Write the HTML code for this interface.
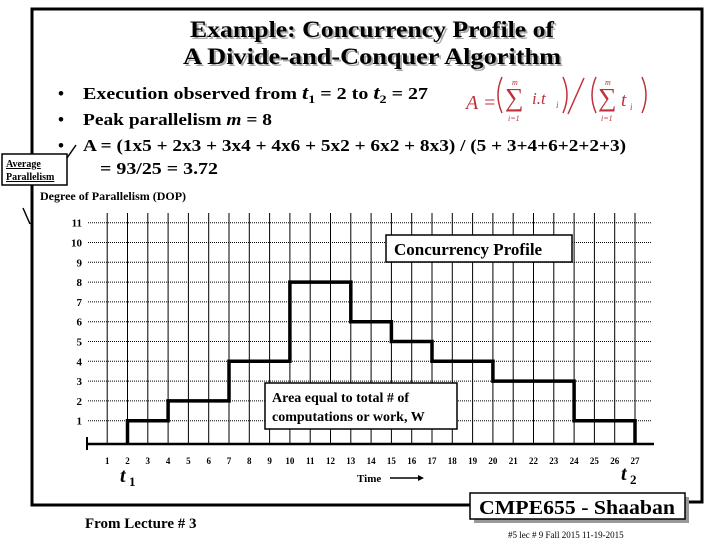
<!DOCTYPE html>
<html><head><meta charset="utf-8"><style>
body{margin:0;background:#fff;}
svg{display:block;font-family:"Liberation Serif",serif;}
</style></head><body>
<svg id="s" width="720" height="540" viewBox="0 0 720 540">
<g fill="none" stroke="#000" stroke-width="3">
<polyline points="470,505 32,505 32,9 702,9 702,502 686,502"/>
</g>
<g font-weight="bold" font-size="23" text-anchor="middle">
<text x="374" y="39" fill="#aaa" textLength="364" lengthAdjust="spacingAndGlyphs">Example: Concurrency Profile of</text>
<text x="372" y="37" textLength="364" lengthAdjust="spacingAndGlyphs">Example: Concurrency Profile of</text>
<text x="374" y="66" fill="#aaa" textLength="378" lengthAdjust="spacingAndGlyphs">A Divide-and-Conquer Algorithm</text>
<text x="372" y="64" textLength="378" lengthAdjust="spacingAndGlyphs">A Divide-and-Conquer Algorithm</text>
</g>
<g font-weight="bold" font-size="17">
<text x="58" y="99">•</text><text x="83" y="99" textLength="345" lengthAdjust="spacingAndGlyphs">Execution observed from  <tspan font-style="italic" font-size="19">t</tspan><tspan font-size="12" dy="4">1</tspan><tspan dy="-4"> = 2  to  </tspan><tspan font-style="italic" font-size="19">t</tspan><tspan font-size="12" dy="4">2</tspan><tspan dy="-4"> = 27</tspan></text>
<text x="58" y="125">•</text><text x="83" y="125" textLength="189" lengthAdjust="spacingAndGlyphs">Peak parallelism  <tspan font-style="italic">m</tspan> = 8</text>
<text x="58" y="151">•</text><text x="83" y="151" textLength="543" lengthAdjust="spacingAndGlyphs">A =  (1x5 + 2x3 + 3x4 + 4x6 + 5x2 + 6x2 + 8x3) / (5 + 3+4+6+2+2+3)</text>
<text x="100" y="174" textLength="118" lengthAdjust="spacingAndGlyphs">= 93/25  = 3.72</text>
</g>
<g fill="#c0303a" font-family="Liberation Serif,serif" font-style="italic">
<text x="466" y="109" font-size="20">A =</text>
<path d="M502,77 Q494,95 502,113 M563,77 Q571,95 563,113 M596,77 Q588,95 596,113 M642,77 Q650,95 642,113 M584,78 L568,114" fill="none" stroke="#c0303a" stroke-width="1.5"/>
<text x="505" y="106" font-size="26" font-style="normal">∑</text>
<text x="512" y="85" font-size="8">m</text><text x="508" y="121" font-size="8">i=1</text>
<text x="532" y="104" font-size="17">i.t</text><text x="556" y="108" font-size="9">i</text>
<text x="598" y="106" font-size="26" font-style="normal">∑</text>
<text x="605" y="85" font-size="8">m</text><text x="601" y="121" font-size="8">i=1</text>
<text x="621" y="106" font-size="19">t</text><text x="630" y="110" font-size="9">i</text>
</g>
<g>
<line x1="67" y1="158" x2="76" y2="145" stroke="#000" stroke-width="1.5"/>
<rect x="2" y="154" width="65" height="31" fill="#fff" stroke="#000" stroke-width="1.5"/>
<text x="6" y="167" font-size="10" font-weight="bold" text-decoration="underline">Average</text>
<text x="6" y="180" font-size="10" font-weight="bold" text-decoration="underline">Parallelism</text>
</g>
<text x="40" y="200" font-size="12" font-weight="bold">Degree of Parallelism (DOP)</text>
<line x1="23" y1="208" x2="30" y2="224" stroke="#000" stroke-width="1.5"/>
<g id="chart"></g>
<g>
<rect x="386" y="235" width="186" height="27" fill="#fff" stroke="#000" stroke-width="1.5"/>
<text x="394" y="255" font-size="17" font-weight="bold">Concurrency Profile</text>
</g>
<g>
<rect x="265" y="383" width="192" height="46" fill="#fff" stroke="#000" stroke-width="1.5"/>
<text x="272" y="402" font-size="14" font-weight="bold">Area equal to total # of</text>
<text x="272" y="421" font-size="14" font-weight="bold">computations or work, W</text>
</g>
<g font-weight="bold" font-style="italic"><text x="120" y="482" font-size="20">t</text><text x="129" y="486" font-size="13" font-style="normal">1</text></g>
<g font-weight="bold" font-style="italic"><text x="621" y="480" font-size="20">t</text><text x="630" y="484" font-size="13" font-style="normal">2</text></g>
<g><text x="357" y="482" font-size="11" font-weight="bold">Time</text>
<line x1="390" y1="478" x2="418" y2="478" stroke="#000" stroke-width="1.5"/><path d="M418,475 L424,478 L418,481Z"/></g>
<text x="85" y="528" font-size="15" font-weight="bold">From Lecture # 3</text>
<g>
<rect x="474" y="497" width="215" height="26" fill="#999"/>
<rect x="470" y="493" width="215" height="26" fill="#fff" stroke="#000" stroke-width="1.5"/>
<text x="577" y="514" font-size="20" font-weight="bold" text-anchor="middle" textLength="196" lengthAdjust="spacingAndGlyphs">CMPE655 - Shaaban</text>
</g>
<text x="508" y="538" font-size="9">#5   lec # 9   Fall 2015   11-19-2015</text>
</svg>
<script>
const times=[2,4,7,10,13,15,17,20,24,27];
const levels=[1,2,4,8,6,5,4,3,1];
const xTicks=[1,2,3,4,5,6,7,8,9,10,11,12,13,14,15,16,17,18,19,20,21,22,23,24,25,26,27];
const yTicks=[1,2,3,4,5,6,7,8,9,10,11];
const NS="http://www.w3.org/2000/svg";
const X=t=>127.5+(t-2)*20.3;
const Y=v=>440.5-v*19.8;
const g=document.getElementById('chart');
function mk(tag,a){const e=document.createElementNS(NS,tag);for(const k in a)e.setAttribute(k,a[k]);g.appendChild(e);return e;}
yTicks.forEach(v=>{
 const l=mk('line',{x1:88,x2:652,y1:Y(v),y2:Y(v),stroke:'#000','stroke-width':1,'stroke-dasharray':'1,1'});
 
 
 const t=mk('text',{x:82,y:Y(v)+4,'font-size':11,'font-weight':'bold','text-anchor':'end'});t.textContent=v;
 
 
});
xTicks.forEach(v=>{
 const l=mk('line',{x1:X(v),x2:X(v),y1:213,y2:444,stroke:'#000','stroke-width':1});
 
 
 const t=mk('text',{x:X(v),y:464,'font-size':9,'font-weight':'bold','text-anchor':'middle'});t.textContent=v;
 
 
});
const ax=mk('line',{x1:86,x2:654,y1:444,y2:444,stroke:'#000','stroke-width':2.5});


const ay=mk('line',{x1:87,x2:87,y1:437,y2:450,stroke:'#000','stroke-width':2});


let d='M'+X(times[0])+','+444;
levels.forEach((v,i)=>{d+=' L'+X(times[i])+','+Y(v)+' L'+X(times[i+1])+','+Y(v);});
d+=' L'+X(times[times.length-1])+','+444;
const p=mk('path',{d:d,fill:'none',stroke:'#000','stroke-width':3.5});


</script>
</body></html>
